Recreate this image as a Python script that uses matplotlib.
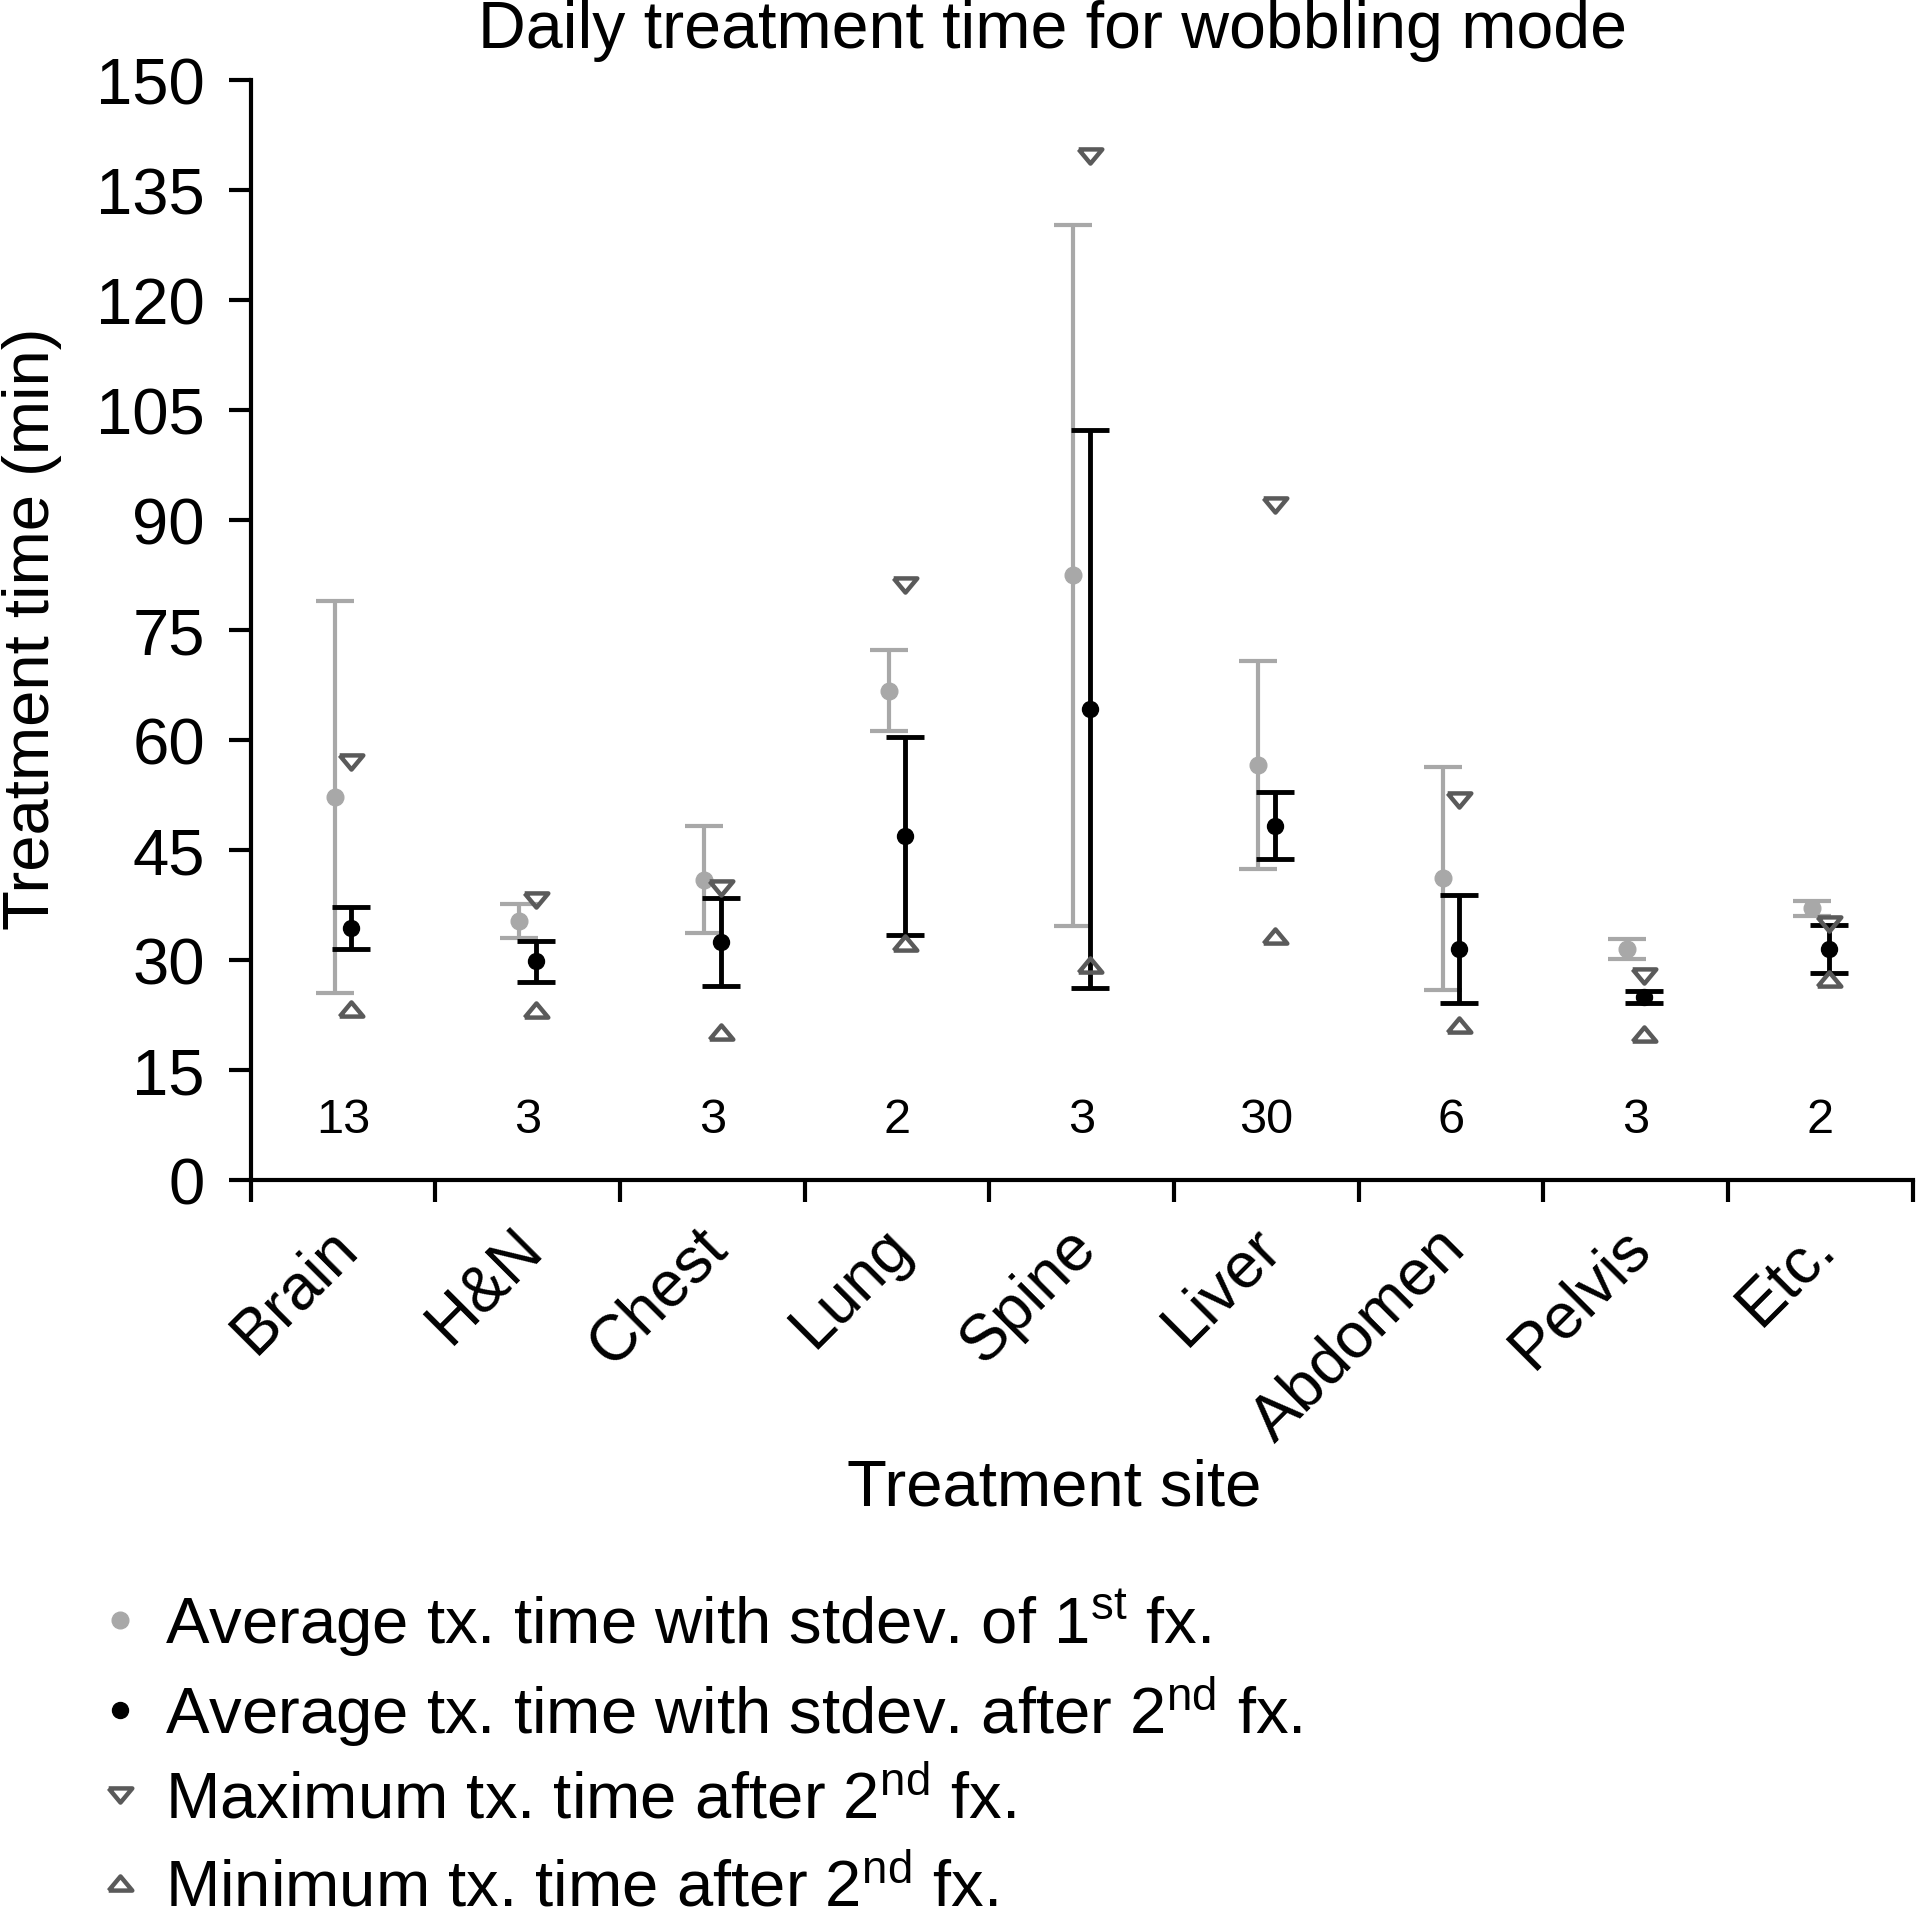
import matplotlib
matplotlib.use("Agg")
import numpy as np
import matplotlib.pyplot as plt
from matplotlib.transforms import ScaledTranslation

plt.rcParams["font.family"] = ["Liberation Sans", "DejaVu Sans"]
plt.rcParams["mathtext.fontset"] = "custom"
plt.rcParams["mathtext.rm"] = "Liberation Sans"
plt.rcParams["mathtext.it"] = "Liberation Sans:italic"
plt.rcParams["mathtext.bf"] = "Liberation Sans:bold"

# values (minutes)
sites = ["Brain", "H&N", "Chest", "Lung", "Spine", "Liver", "Abdomen", "Pelvis", "Etc."]
n_patients = [13, 3, 3, 2, 3, 30, 6, 3, 2]
mean_1st = [52.2, 35.3, 40.9, 66.7, 82.4, 56.5, 41.1, 31.4, 37.0]
sd_1st = [26.7, 2.3, 7.3, 5.5, 47.8, 14.2, 15.2, 1.35, 1.05]
mean_2nd = [34.35, 29.75, 32.4, 46.85, 64.15, 48.25, 31.45, 24.9, 31.45]
sd_2nd = [2.85, 2.75, 5.95, 13.45, 38.05, 4.55, 7.35, 0.8, 3.25]
max_2nd = [56.9, 38.1, 39.8, 81.1, 139.6, 92.0, 51.8, 27.8, 34.8]
min_2nd = [23.3, 23.2, 20.1, 32.3, 29.3, 33.2, 21.1, 19.9, 27.4]

labels = [r"Average tx. time with stdev. of 1$^{\mathrm{st}}$ fx.",
          r"Average tx. time with stdev. after 2$^{\mathrm{nd}}$ fx.",
          r"Maximum tx. time after 2$^{\mathrm{nd}}$ fx.",
          r"Minimum tx. time after 2$^{\mathrm{nd}}$ fx."]

gray = "#a8a8a8"
tri_col = "#5a5a5a"
x = np.arange(len(sites))
off = 0.045

fig = plt.figure(figsize=(19.17, 19.33), dpi=100)
ax = fig.add_axes([0.1308, 0.3892, 0.8670, 0.5691])

ax.errorbar(x - off, mean_1st, yerr=sd_1st, fmt="none", ecolor=gray,
            elinewidth=3, capsize=13.5, capthick=3, zorder=2)
h1, = ax.plot(x - off, mean_1st, "o", color=gray, ms=12, ls="none", zorder=3)
ax.errorbar(x + off, mean_2nd, yerr=sd_2nd, fmt="none", ecolor="black",
            elinewidth=3.5, capsize=13.5, capthick=3.5, zorder=4)
h2, = ax.plot(x + off, mean_2nd, "o", color="black", ms=11.5, ls="none", zorder=5)

# flattened open triangles like the original markers
down_tri = [(-1, 0.6), (1, 0.6), (0, -0.6), (-1, 0.6)]
up_tri = [(-1, -0.6), (1, -0.6), (0, 0.6), (-1, -0.6)]
h3, = ax.plot(x + off, max_2nd, ls="none", marker=down_tri, ms=17, mfc="none",
              mec=tri_col, mew=3.2, zorder=6, clip_on=False)
h4, = ax.plot(x + off, min_2nd, ls="none", marker=up_tri, ms=17, mfc="none",
              mec=tri_col, mew=3.2, zorder=6, clip_on=False)

# number of patients per site
for xi, n in zip(x, n_patients):
    ax.text(xi, 6.46, str(n), ha="center", va="baseline", fontsize=35)

ax.set_xlim(-0.5, len(sites) - 0.5)
ax.set_ylim(0, 150)
ax.set_yticks(np.arange(0, 151, 15))
ax.set_xticks(np.arange(-0.5, len(sites), 1))
ax.set_xticklabels([])
ax.set_xticks(x, minor=True)
ax.set_xticklabels(sites, minor=True, rotation=45, ha="right", fontsize=46)
ax.tick_params(axis="x", which="minor", length=0, pad=26)
ax.tick_params(axis="both", which="major", direction="out", length=16, width=3)
ax.tick_params(axis="y", labelsize=47, pad=17)
shift = ScaledTranslation(26 / 100, 0, fig.dpi_scale_trans)
for lab in ax.get_xticklabels(minor=True):
    lab.set_transform(lab.get_transform() + shift)

for side in ["top", "right"]:
    ax.spines[side].set_visible(False)
for side in ["left", "bottom"]:
    ax.spines[side].set_linewidth(3)

fig.text(478 / 1917, 1 - 48 / 1933, "Daily treatment time for wobbling mode",
         ha="left", va="baseline", fontsize=47.7)
fig.text(32 / 1917, 1 - 629 / 1933, "Treatment time (min)", rotation=90,
         ha="center", va="center", fontsize=47)
fig.text(1054 / 1917, 1 - 1489 / 1933, "Treatment site", ha="center",
         va="center", fontsize=47)

# one legend per row so the rows are evenly spaced
row_y = [1624, 1712, 1800, 1888]
for h, lab, yc in zip([h1, h2, h3, h4], labels, row_y):
    fig.legend([h], [lab], loc="center left",
               bbox_to_anchor=(100 / 1917, 1 - yc / 1933), frameon=False,
               fontsize=47, handlelength=0.6, handletextpad=0.39,
               borderpad=0, borderaxespad=0)

fig.savefig("out.png", dpi=100)
